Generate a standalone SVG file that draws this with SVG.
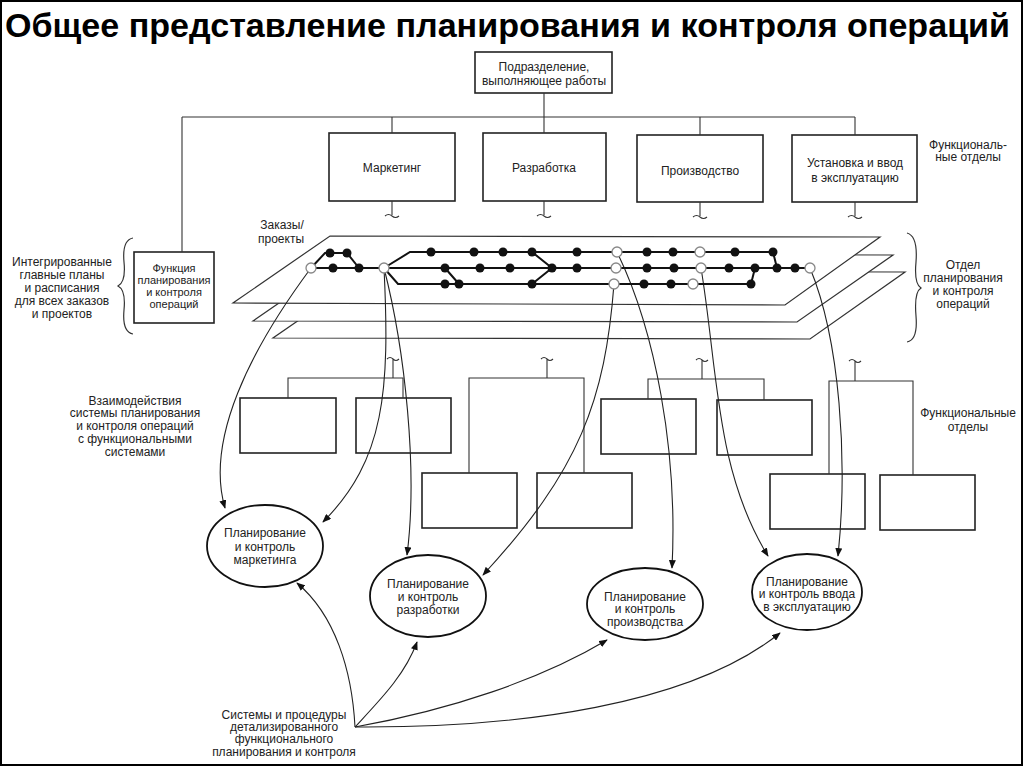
<svg xmlns="http://www.w3.org/2000/svg" width="1024" height="768" viewBox="0 0 1024 768">
<defs>
<marker id="arr" viewBox="0 0 10 8" refX="9" refY="4" markerWidth="9" markerHeight="7" markerUnits="userSpaceOnUse" orient="auto"><path d="M0,0 L10,4 L0,8 z" fill="#111"/></marker>
</defs>
<style>
text{font-family:"Liberation Sans",Arial,sans-serif;font-size:12px;fill:#222;text-anchor:middle}
.title{font-size:33px;font-weight:bold;fill:#000;text-anchor:start}
.sm{font-size:11px}
.box{fill:#fff;stroke:#222;stroke-width:1.6}
.ln{fill:none;stroke:#333;stroke-width:1.1}
.plane{fill:#fff;stroke:#333;stroke-width:1.2}
.net{fill:none;stroke:#111;stroke-width:2}
.dot{fill:#111}
.open{fill:#fff;stroke:#888;stroke-width:1.3}
.cv{fill:none;stroke:#222;stroke-width:1.1;marker-end:url(#arr)}
.ell{fill:#fff;stroke:#111;stroke-width:1.8}
.brace{fill:none;stroke:#333;stroke-width:1.2}
</style>
<rect x="0" y="0" width="1024" height="768" fill="#fff"/>
<rect x="1" y="1" width="1021" height="764" fill="none" stroke="#000" stroke-width="2"/>
<text id="title" class="title" x="5" y="37" textLength="1005" lengthAdjust="spacingAndGlyphs">Общее представление планирования и контроля операций</text>

<g id="planes">
<polygon class="plane" points="370,271 905,272 810,339 273,338"/>
<polygon class="plane" points="350,254 893,255 797,322 253,321"/>
<polygon class="plane" points="330,236 880,237 785,305 233,303"/>
</g>

<g id="top-unit"><rect class="box" x="475" y="52" width="137" height="41"/><text x="544" y="71">Подразделение,</text><text x="544" y="85">выполняющее работы</text></g>
<g id="marketing"><rect class="box" x="329" y="133" width="126" height="68"/><text x="392" y="172">Маркетинг</text></g>
<g id="development"><rect class="box" x="483" y="133" width="123" height="68"/><text x="544" y="172">Разработка</text></g>
<g id="production"><rect class="box" x="637" y="135" width="126" height="67"/><text x="700" y="175">Производство</text></g>
<g id="installation"><rect class="box" x="792" y="135" width="125" height="67"/><text x="855" y="167">Установка и ввод</text><text x="855" y="182">в эксплуатацию</text></g>
<g id="planning-function"><rect class="box" x="134" y="252" width="80" height="71"/><text class="sm" x="174" y="272">Функция</text><text class="sm" x="174" y="284">планирования</text><text class="sm" x="174" y="296">и контроля</text><text class="sm" x="174" y="308">операций</text></g>

<g id="lower-boxes">
<rect id="fa" class="box" x="240" y="398" width="96" height="55"/>
<rect id="fb" class="box" x="356" y="398" width="95" height="55"/>
<rect id="fc" class="box" x="422" y="473" width="95" height="55"/>
<rect id="fd" class="box" x="537" y="473" width="95" height="55"/>
<rect id="fe" class="box" x="601" y="399" width="95" height="55"/>
<rect id="ff" class="box" x="717" y="400" width="95" height="55"/>
<rect id="fg" class="box" x="770" y="474" width="95" height="55"/>
<rect id="fh" class="box" x="880" y="475" width="95" height="55"/>
</g>

<g id="pc-marketing"><ellipse class="ell" cx="265" cy="546" rx="58" ry="41"/><text x="265" y="537">Планирование</text><text x="265" y="551">и контроль</text><text x="265" y="564">маркетинга</text></g>
<g id="pc-development"><ellipse class="ell" cx="428" cy="596" rx="58" ry="41"/><text x="428" y="588">Планирование</text><text x="428" y="601">и контроль</text><text x="428" y="614">разработки</text></g>
<g id="pc-production"><ellipse class="ell" cx="645" cy="604" rx="58" ry="36"/><text x="645" y="601">Планирование</text><text x="645" y="613">и контроль</text><text x="645" y="626">производства</text></g>
<g id="pc-installation"><ellipse class="ell" cx="807" cy="592" rx="55" ry="38"/><text x="807" y="586">Планирование</text><text x="807" y="598">и контроль ввода</text><text x="807" y="611">в эксплуатацию</text></g>

<g id="labels">
<text x="968" y="149">Функциональ-</text><text x="968" y="161">ные отделы</text>
<text x="282" y="229">Заказы/</text><text x="281" y="243">проекты</text>
<text x="62" y="266">Интегрированные</text><text x="62" y="279">главные планы</text><text x="62" y="292">и расписания</text><text x="62" y="305">для всех заказов</text><text x="62" y="318">и проектов</text>
<path class="brace" d="M133,238 Q122,240 124,262 Q126,282 118,286 Q126,290 124,310 Q122,332 133,334"/>
<text x="963" y="269">Отдел</text><text x="963" y="282">планирования</text><text x="963" y="295">и контроля</text><text x="963" y="308">операций</text>
<path class="brace" d="M907,233 Q918,236 916,262 Q914,284 921,288 Q914,292 916,316 Q918,340 907,342"/>
<text x="135" y="405">Взаимодействия</text><text x="135" y="417">системы планирования</text><text x="135" y="430">и контроля операций</text><text x="135" y="443">с функциональными</text><text x="135" y="456">системами</text>
<text x="968" y="417">Функциональные</text><text x="968" y="431">отделы</text>
<text x="284" y="719">Системы и процедуры</text><text x="284" y="731">детализированного</text><text x="284" y="743">функционального</text><text x="284" y="756">планирования и контроля</text>
</g>

<g id="connectors">
<path class="ln" d="M544,93 V133 M182,117 H855 M392,117 V133 M700,117 V135 M855,117 V135 M182,117 V252"/>
<path class="ln" d="M392,201 V215 M385,216 q3.5,-3 7,0 q3.5,3 7,0 M544,201 V215 M537,216 q3.5,-3 7,0 q3.5,3 7,0 M700,202 V216 M693,217 q3.5,-3 7,0 q3.5,3 7,0 M855,202 V216 M848,217 q3.5,-3 7,0 q3.5,3 7,0"/>
<path class="ln" d="M288,398 V378 H403 V398 M393,378 V359 M387,359 q3,-3 6,0 q3,3 6,0"/>
<path class="ln" d="M469,473 V378 H584 V473 M547,378 V359 M541,359 q3,-3 6,0 q3,3 6,0"/>
<path class="ln" d="M648,399 V379 H764 V400 M702,379 V360 M696,360 q3,-3 6,0 q3,3 6,0"/>
<path class="ln" d="M829,474 V381 H913 V475 M855,381 V361 M849,361 q3,-3 6,0 q3,3 6,0"/>
<path class="cv" d="M311,268 C250,350 205,440 225,508"/>
<path class="cv" d="M384,268 C390,390 385,460 323,522"/>
<path class="cv" d="M384,268 C405,350 418,470 407,555"/>
<path class="cv" d="M614,284 C605,400 580,470 483,575"/>
<path class="cv" d="M617,252 C655,330 678,450 672,568"/>
<path class="cv" d="M701,268 C718,370 715,470 768,556"/>
<path class="cv" d="M810,268 C840,340 848,460 838,556"/>
<path class="cv" d="M355,727 C352,670 335,615 297,583"/>
<path class="cv" d="M355,727 C380,700 405,675 417,642"/>
<path class="cv" d="M355,727 C450,710 540,680 607,640"/>
<path class="cv" d="M355,727 C520,728 690,705 780,633"/>
</g>

<g id="network">
<path class="net" d="M311,268 L810,268 M311,268 L325,253 L347,253 L359,268 M384,268 L410,252 L773,252 L777,268 M384,268 L398,284 L751,284 L753,276 L755,268 M445,268 L459,284 M532,252 L552,268 M532,284 L552,268"/>
<g class="dot">
<circle cx="330" cy="253" r="4.5"/><circle cx="347" cy="253" r="4.5"/><circle cx="333" cy="268" r="4.5"/><circle cx="359" cy="268" r="4.5"/>
<circle cx="431" cy="252" r="4.5"/><circle cx="474" cy="252" r="4.5"/><circle cx="503" cy="252" r="4.5"/><circle cx="532" cy="252" r="4.5"/><circle cx="577" cy="252" r="4.5"/><circle cx="647" cy="252" r="4.5"/><circle cx="673" cy="252" r="4.5"/><circle cx="735" cy="252" r="4.5"/><circle cx="773" cy="252" r="4.5"/>
<circle cx="445" cy="268" r="4.5"/><circle cx="480" cy="268" r="4.5"/><circle cx="510" cy="268" r="4.5"/><circle cx="552" cy="268" r="4.5"/><circle cx="577" cy="268" r="4.5"/><circle cx="647" cy="268" r="4.5"/><circle cx="674" cy="268" r="4.5"/><circle cx="729" cy="268" r="4.5"/><circle cx="755" cy="268" r="4.5"/><circle cx="777" cy="268" r="4.5"/><circle cx="795" cy="268" r="4.5"/>
<circle cx="445" cy="284" r="4.5"/><circle cx="459" cy="284" r="4.5"/><circle cx="532" cy="284" r="4.5"/><circle cx="644" cy="284" r="4.5"/><circle cx="671" cy="284" r="4.5"/><circle cx="751" cy="284" r="4.5"/>
</g>
<g class="open">
<circle cx="311" cy="268" r="5"/><circle cx="384" cy="268" r="5"/><circle cx="617" cy="252" r="5"/><circle cx="700" cy="252" r="5"/><circle cx="616" cy="268" r="5"/><circle cx="701" cy="268" r="5"/><circle cx="810" cy="268" r="5"/><circle cx="614" cy="284" r="5"/><circle cx="693" cy="284" r="5"/>
</g>
</g>
</svg>
